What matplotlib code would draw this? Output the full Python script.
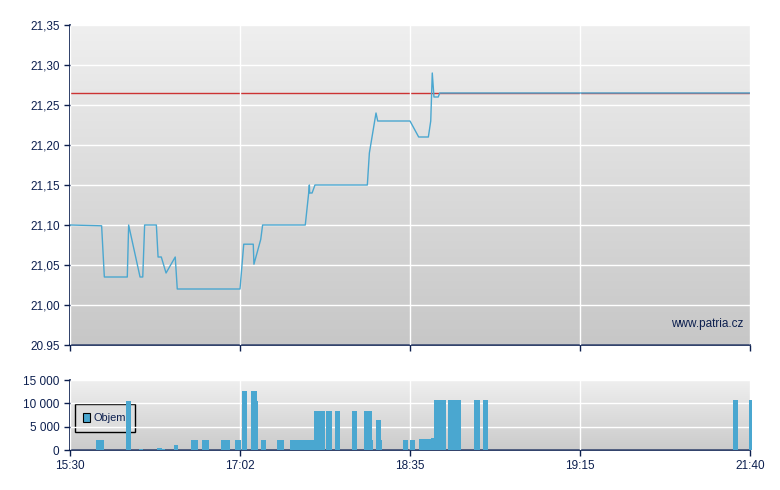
import numpy as np
import matplotlib
matplotlib.use("Agg")
import matplotlib.pyplot as plt
from matplotlib.colors import LinearSegmentedColormap
from matplotlib.patches import Rectangle

plt.rcParams['font.family'] = ['Liberation Sans', 'DejaVu Sans']

# x positions are in axis slots: 0 = 15:30, 1 = 17:02, 2 = 18:35, 3 = 19:15, 4 = 21:40
tick_labels = ["15:30", "17:02", "18:35", "19:15", "21:40"]

price_x = [0.0, 0.186, 0.202, 0.337, 0.345, 0.412, 0.428, 0.439, 0.508, 0.518,
           0.537, 0.565, 0.619, 0.631, 1.000, 1.022, 1.078, 1.082, 1.122, 1.133,
           1.384, 1.404, 1.408, 1.410, 1.424, 1.441, 1.749, 1.761, 1.800, 1.810,
           2.000, 2.051, 2.108, 2.122, 2.131, 2.141, 2.166, 2.175, 4.0]
price_y = [21.10, 21.099, 21.035, 21.035, 21.10, 21.035, 21.035, 21.10, 21.10, 21.06,
           21.06, 21.04, 21.06, 21.02, 21.02, 21.076, 21.076, 21.051, 21.082, 21.10,
           21.10, 21.14, 21.15, 21.14, 21.14, 21.15, 21.15, 21.19, 21.24, 21.23,
           21.23, 21.21, 21.21, 21.23, 21.29, 21.26, 21.26, 21.265, 21.265]
ref_price = 21.265

vol_start = [0.150, 0.332, 0.403, 0.512, 0.541, 0.612, 0.712, 0.776, 0.888, 0.971,
             1.012, 1.065, 1.100, 1.121, 1.215, 1.297, 1.435, 1.503, 1.559, 1.659,
             1.729, 1.774, 1.800, 1.829, 1.959, 2.000, 2.053, 2.124, 2.141, 2.226,
             2.376, 2.429, 3.900, 3.995]
vol_end = [0.200, 0.359, 0.432, 0.541, 0.556, 0.638, 0.753, 0.815, 0.944, 1.006,
           1.044, 1.100, 1.106, 1.153, 1.259, 1.435, 1.500, 1.541, 1.591, 1.688,
           1.774, 1.785, 1.829, 1.835, 1.991, 2.029, 2.124, 2.141, 2.212, 2.300,
           2.409, 2.459, 3.932, 4.012]
vol = [2200, 10600, 200, 500, 300, 1100, 2200, 2200, 2200, 2200,
       12700, 12700, 10600, 2200, 2200, 2200, 8400, 8400, 8400, 8400,
       8400, 2200, 6500, 2200, 2200, 2200, 2400, 2600, 10800, 10800,
       10800, 10800, 10800, 10800]

navy = "#0c1f4f"
blue = "#4aa7d0"

fig = plt.figure(figsize=(7.8, 4.9), dpi=100)
W, H = 780, 490
ax = fig.add_axes([70 / W, (H - 345) / H, 680 / W, 320 / H])
axv = fig.add_axes([70 / W, (H - 450) / H, 680 / W, 70 / H])


def style(a, top_col, bot_col):
    grad = np.linspace(0, 1, 256).reshape(-1, 1)
    cm = LinearSegmentedColormap.from_list("g", [top_col, bot_col])
    a.imshow(grad, extent=[0, 1, 0, 1], transform=a.transAxes, cmap=cm,
             aspect="auto", zorder=0, origin="upper")
    for s in ["top", "right"]:
        a.spines[s].set_visible(False)
    for s in ["left", "bottom"]:
        a.spines[s].set_color(navy)
        a.spines[s].set_linewidth(1.2)
    a.tick_params(colors=navy, labelcolor=navy, labelsize=8.5, length=4, width=1)
    a.grid(True, color="white", linewidth=1.0, zorder=1)
    a.set_axisbelow(False)
    a.set_xlim(0, 4)
    a.set_xticks(range(5))


style(ax, "#efefef", "#c7c7c7")
ax.set_ylim(20.95, 21.35)
yt = np.round(np.arange(20.95, 21.351, 0.05), 2)
ax.set_yticks(yt)
ax.set_yticklabels(["20.95"] + [f"{v:.2f}".replace(".", ",") for v in yt[1:]])
ax.set_xticklabels([])
ax.axhline(ref_price, color="#cc3333", linewidth=1, zorder=2)
ax.plot(price_x, price_y, color=blue, linewidth=1.0, zorder=3)
ax.text(0.99, 0.065, "www.patria.cz", transform=ax.transAxes, ha="right",
        va="center", color=navy, fontsize=8.5)

style(axv, "#efefef", "#cbcbcb")
axv.set_ylim(0, 15000)
axv.set_yticks([0, 5000, 10000, 15000])
axv.set_yticklabels(["0", "5 000", "10 000", "15 000"])
axv.set_xticklabels(tick_labels)
widths = np.array(vol_end) - np.array(vol_start)
axv.bar(vol_start, vol, width=widths, align="edge", color=blue, zorder=3,
        linewidth=0, label="Objem", clip_on=False)

# legend box sits under the bars, like in the original
axv.add_patch(Rectangle((5 / 680, 18 / 70), 60 / 680, 28 / 70, transform=axv.transAxes,
                        facecolor="#dedede", edgecolor="black", linewidth=1, zorder=2.4))
leg = axv.legend(loc="center left", bbox_to_anchor=(10 / 680, 32 / 70),
                 frameon=False, fontsize=7.9, handlelength=0.65, handleheight=0.85,
                 handletextpad=0.3, borderaxespad=0, borderpad=0.3)
leg.set_zorder(2.5)
for h in leg.legend_handles:
    h.set_edgecolor("black")
    h.set_linewidth(0.8)
for t in leg.get_texts():
    t.set_color(navy)

fig.savefig("out.png", dpi=100)
